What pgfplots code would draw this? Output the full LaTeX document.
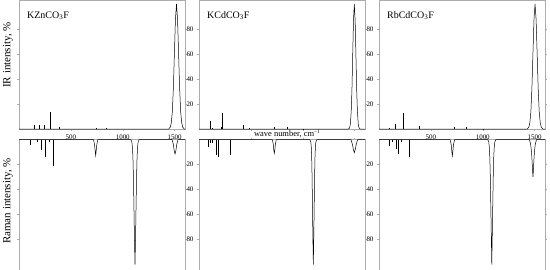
\documentclass[border=0pt]{standalone}
\usepackage{fontspec}
\setmainfont{Liberation Serif}
\usepackage{pgfplots}
\pgfplotsset{compat=1.18}

\pgfplotsset{
  panel/.style={
    scale only axis, width=166bp,
    xmin=0, xmax=1600,
    xtick={500,1000,1500}, ytick={20,40,60,80},
    axis line style={gray!65}, tick style={gray!65, line width=0.4pt},
    tick align=outside, major tick length=2bp,
    font=\fontsize{7}{8}\selectfont,
    /pgf/number format/assume math mode=true,
    /pgf/number format/1000 sep={},
    yticklabel pos=left, xticklabel pos=bottom,
    clip mode=individual,
  },
  irpanel/.style={panel, anchor=north west, height=129bp, ymin=0, ymax=103.2},
  ramanpanel/.style={panel, anchor=north west, height=130.5bp, ymin=0, ymax=104.4,
    y dir=reverse, xticklabels={}},
  spec/.style={black, no marks, line width=0.5pt, line join=miter},
}

\begin{document}
\begin{tikzpicture}
\path[use as bounding box] (0,0) rectangle (550bp,-270bp);

% column 1: KZnCO3F
\begin{axis}[irpanel, at={(19bp,0bp)}, yticklabels={}]
\addplot[spec, ycomb] coordinates {(148,3.2)(196,3)(244,3)(299,13.9)(389,1.5)(749,0.8)(845,0.8)};
\addplot[spec] coordinates {(0,0)(1443,0)(1458,1.5)(1468,5)(1478,14)(1488,33)(1498,61)(1508,88)(1518,100)(1528,88)(1538,61)(1548,33)(1558,14)(1568,5)(1578,1.5)(1593,0)(1600,0)};
\end{axis}
\begin{axis}[ramanpanel, at={(19bp,-139.5bp)}, yticklabels={}]
\addplot[spec, ycomb] coordinates {(106,4.3)(180,1.6)(219,8)(251,14)(292,1.6)(331,21)};
\addplot[spec] coordinates {(0,0)(718,0)(728,4)(734,9)(739,12.8)(744,9)(750,4)(760,0)
  (1078,0)(1088,2)(1093,6)(1098,14)(1103,30)(1108,55)(1113,80)(1118,100)(1123,80)(1128,55)(1133,30)(1138,14)(1143,6)(1148,2)(1158,0)
  (1475,0)(1488,4)(1496,9)(1504,11.5)(1512,9)(1520,4)(1533,0)(1600,0)};
\end{axis}

% column 2: KCdCO3F
\begin{axis}[irpanel, at={(199bp,0bp)}, xticklabels={}]
\addplot[spec, ycomb] coordinates {(112,6.4)(128,1.2)(219,2)(228,12.5)(427,3.2)(482,0.6)(726,1.8)(855,1.4)(1006,0.4)};
\addplot[spec] coordinates {(0,0)(1442,0)(1452,1)(1459,4)(1467,14)(1474,31)(1482,61)(1489,87)(1497,100)(1505,87)(1512,61)(1520,31)(1527,14)(1535,4)(1542,1)(1552,0)(1600,0)};
\end{axis}
\begin{axis}[ramanpanel, at={(199bp,-139.5bp)}]
\addplot[spec, ycomb] coordinates {(90,5.9)(105,2.7)(125,2.7)(170,12)(186,14)(299,12)};
\addplot[spec] coordinates {(0,0)(707,0)(716,4)(721,8.5)(726,11)(731,8.5)(736,4)(745,0)
  (1068,0)(1078,2)(1082,6)(1086,14)(1090,30)(1094,55)(1098,80)(1102,100)(1106,80)(1110,55)(1114,30)(1118,14)(1122,6)(1126,2)(1136,0)
  (1465,0)(1479,4)(1488,8)(1497,10.5)(1506,8)(1515,4)(1529,0)(1600,0)};
\end{axis}

% column 3: RbCdCO3F
\begin{axis}[irpanel, at={(379bp,0bp)}]
\addplot[spec, ycomb] coordinates {(100,1)(154,4)(235,12.5)(386,2.4)(726,1.5)(845,1.5)(1000,0.3)};
\addplot[spec] coordinates {(0,0)(1429,0)(1444,1.5)(1454,5)(1464,14)(1474,33)(1484,61)(1494,88)(1504,100)(1514,88)(1524,61)(1534,33)(1544,14)(1554,5)(1564,1.5)(1579,0)(1600,0)};
\end{axis}
\begin{axis}[ramanpanel, at={(379bp,-139.5bp)}]
\addplot[spec, ycomb] coordinates {(100,4.8)(132,1.6)(171,7.5)(186,11.5)(219,1.6)(292,14)};
\addplot[spec] coordinates {(0,0)(685,0)(696,4)(702,9.5)(707,13)(712,9.5)(718,4)(729,0)
  (1048,0)(1058,2)(1063,6)(1068,14)(1073,30)(1078,55)(1083,80)(1087,100)(1091,80)(1096,55)(1101,30)(1106,14)(1111,6)(1116,2)(1126,0)
  (1450,0)(1462,4)(1470,10)(1476,18)(1480,25)(1484,30)(1488,25)(1492,18)(1498,10)(1506,4)(1518,0)(1600,0)};
\end{axis}

% texts
\node[anchor=west, font=\fontsize{10}{12}\selectfont, inner sep=0] at (27bp,-15.5bp) {KZnCO\textsubscript{3}F};
\node[anchor=west, font=\fontsize{10}{12}\selectfont, inner sep=0] at (207bp,-15.5bp) {KCdCO\textsubscript{3}F};
\node[anchor=west, font=\fontsize{10}{12}\selectfont, inner sep=0] at (387bp,-15.5bp) {RbCdCO\textsubscript{3}F};
\node[rotate=90, font=\fontsize{11}{13}\selectfont, inner sep=0] at (8bp,-55bp) {IR intensity, \%};
\node[rotate=90, font=\fontsize{11}{13}\selectfont, inner sep=0] at (8bp,-201bp) {Raman intensity, \%};
\node[font=\fontsize{8.5}{10}\selectfont, inner sep=0] at (287bp,-133.5bp) {wave number, cm\raisebox{0.7ex}{\fontsize{5.5}{6}\selectfont −1}};
\end{tikzpicture}
\end{document}
